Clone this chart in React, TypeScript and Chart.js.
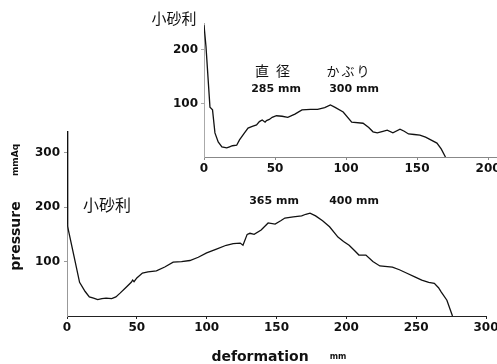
import React, { useEffect, useRef } from "react";
import { Chart, registerables } from "chart.js";

Chart.register(...registerables);

// Main chart (365 mm / 400 mm)
const mainX = [0, 0.3, 0.7, 1, 5, 9, 13, 16, 19, 22, 25, 28, 32, 35, 38, 42, 46, 47, 48, 50, 54, 58, 64, 70, 76, 82, 88, 94, 100, 107, 114, 119, 124, 126, 129, 131, 134, 139, 144, 149, 153, 156, 162, 168, 171, 174, 178, 183, 188, 194, 198, 202, 206, 209, 214, 219, 224, 233, 238, 243, 249, 254, 259, 263, 266, 268, 272, 276];
const mainY = [340, 250, 165, 158, 110, 62, 45, 35, 33, 30, 32, 33, 32, 35, 42, 52, 62, 66, 63, 70, 79, 81, 83, 90, 99, 100, 102, 108, 116, 123, 130, 133, 134, 130, 150, 152, 150, 158, 171, 169, 175, 180, 182, 184, 187, 189, 184, 175, 164, 145, 137, 130, 120, 112, 112, 100, 92, 90, 85, 79, 72, 66, 62, 60, 52, 44, 29, 0];

// Inset chart (285 mm / 300 mm)
const insetX = [0, 1.4, 4.2, 6, 7.7, 10, 12.6, 16, 18, 20, 23, 25, 28, 31, 34, 37, 39, 41, 43, 44, 46, 48, 51, 55, 59, 64, 69, 75, 80, 85, 89, 92, 98, 104, 112, 116, 119, 122, 126, 129, 133, 138, 141, 144, 148, 152, 156, 159, 164, 167, 170];
const insetY = [246, 206, 93, 88, 45, 28, 19, 17, 19, 21, 22, 32, 43, 54, 57, 60, 66, 69, 65, 68, 70, 74, 77, 76, 74, 80, 88, 89, 89, 92, 97, 93, 84, 65, 63, 55, 47, 45, 48, 50, 45, 52, 48, 43, 42, 41, 37, 33, 26, 15, 0];

const mainXTicks = [0, 50, 100, 150, 200, 250, 300];
const mainYTicks = [100, 200, 300];
const insetXTicks = [0, 50, 100, 150, 200];
const insetYTicks = [100, 200];

const TICK_FONT = { family: "'DejaVu Sans', sans-serif", size: 12, weight: "bold" as const };

function buildAxes(o: {
  xTicks: number[]; yTicks: number[]; xMax: number; yMax: number;
  xColor: string; yColor: string; yWidth: number; xHeight: number;
  xPad: number; yPad: number;
}) {
  return {
    x: {
      type: "linear" as const,
      min: 0,
      max: o.xMax,
      afterBuildTicks: (s: any) => { s.ticks = o.xTicks.map((v) => ({ value: v })); },
      afterFit: (s: any) => {
        s.height = o.xHeight;
        s.paddingLeft = 0; s.paddingRight = 0; s.paddingTop = 0; s.paddingBottom = 0;
      },
      grid: { drawOnChartArea: false, drawTicks: true, tickLength: 3, color: o.xColor },
      border: { display: true, color: o.xColor, width: 1 },
      ticks: { font: TICK_FONT, color: "#111", padding: o.xPad, maxRotation: 0, autoSkip: false },
    },
    y: {
      type: "linear" as const,
      min: 0,
      max: o.yMax,
      afterBuildTicks: (s: any) => { s.ticks = o.yTicks.map((v) => ({ value: v })); },
      afterFit: (s: any) => {
        s.width = o.yWidth;
        s.paddingLeft = 0; s.paddingRight = 0; s.paddingTop = 0; s.paddingBottom = 0;
      },
      grid: { drawOnChartArea: false, drawTicks: true, tickLength: 3, color: o.yColor },
      border: { display: true, color: o.yColor, width: 1 },
      ticks: { font: TICK_FONT, color: "#111", padding: o.yPad, autoSkip: false },
    },
  };
}

function LineChart(props: {
  xs: number[]; ys: number[]; width: number; height: number; left: number; top: number;
  padding: any; axes: any;
}) {
  const ref = useRef<HTMLCanvasElement | null>(null);
  useEffect(() => {
    if (!ref.current) return;
    const chart = new Chart(ref.current, {
      type: "line",
      data: {
        datasets: [
          {
            data: props.xs.map((x, i) => ({ x, y: props.ys[i] })),
            borderColor: "#111",
            borderWidth: 1.3,
            pointRadius: 0,
            tension: 0,
            fill: false,
          },
        ],
      },
      options: {
        animation: false,
        responsive: false,
        devicePixelRatio: 1,
        layout: { padding: props.padding },
        plugins: { legend: { display: false }, tooltip: { enabled: false } },
        scales: props.axes,
      },
    });
    return () => chart.destroy();
  }, []);
  return (
    <canvas
      ref={ref}
      width={props.width}
      height={props.height}
      style={{ position: "absolute", left: props.left, top: props.top, width: props.width, height: props.height }}
    />
  );
}

function Label(p: { x: number; y: number; text: string; size: number; bold?: boolean; jp?: boolean; rot?: boolean; ls?: number }) {
  return (
    <span
      style={{
        position: "absolute",
        left: p.x,
        top: p.y,
        transform: `translate(-50%, -50%)${p.rot ? " rotate(-90deg)" : ""}`,
        fontFamily: p.jp ? "'Noto Sans CJK JP', sans-serif" : "'DejaVu Sans', sans-serif",
        fontWeight: p.bold ? "bold" : "normal",
        fontSize: p.size,
        letterSpacing: p.ls ?? 0,
        lineHeight: 1,
        whiteSpace: "nowrap",
        color: "#111",
      }}
    >
      {p.text}
    </span>
  );
}

export default function App() {
  return (
    <div style={{ position: "absolute", left: 0, top: 0, width: 497, height: 364, background: "#fff", overflow: "hidden" }}>
      <LineChart
        xs={mainX}
        ys={mainY}
        width={497}
        height={364}
        left={0}
        top={0}
        padding={{ left: 0, top: 131, right: 11, bottom: 0 }}
        axes={buildAxes({
          xTicks: mainXTicks, yTicks: mainYTicks, xMax: 300, yMax: 340,
          xColor: "#222", yColor: "#999", yWidth: 67, xHeight: 48, xPad: 2, yPad: 4,
        })}
      />
      <LineChart
        xs={insetX}
        ys={insetY}
        width={357}
        height={180}
        left={140}
        top={0}
        padding={{ left: 0, top: 23, right: 0, bottom: 0 }}
        axes={buildAxes({
          xTicks: insetXTicks, yTicks: insetYTicks, xMax: 206.3, yMax: 250,
          xColor: "#888", yColor: "#aaa", yWidth: 64, xHeight: 23, xPad: 2, yPad: 3,
        })}
      />
      <Label x={15} y={236} text="pressure" size={14} bold rot />
      <Label x={15} y={160} text="mmAq" size={9} bold rot />
      <Label x={260} y={356} text="deformation" size={14} bold />
      <Label x={338} y={357} text="mm" size={8} bold />
      <Label x={107} y={204} text="小砂利" size={16} jp />
      <Label x={174} y={17} text="小砂利" size={15} jp />
      <Label x={276} y={70} text="直径" size={14} jp ls={7} />
      <Label x={349} y={70} text="かぶり" size={13} jp ls={2} />
      <Label x={276} y={88} text="285 mm" size={11} bold />
      <Label x={354} y={88} text="300 mm" size={11} bold />
      <Label x={274} y={200} text="365 mm" size={11} bold />
      <Label x={354} y={200} text="400 mm" size={11} bold />
    </div>
  );
}
